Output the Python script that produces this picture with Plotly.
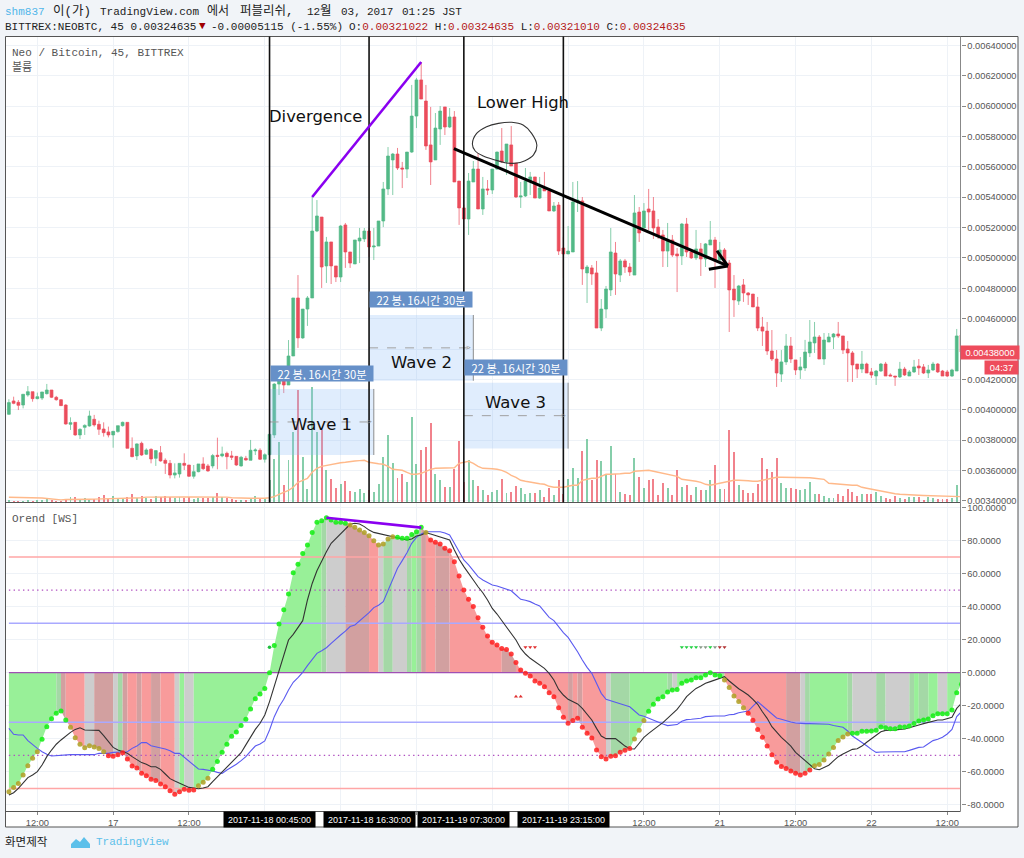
import pandas as pd
import plotly.graph_objects as go

WIDTH = 1024
HEIGHT = 858

# candles, in 1e-5 BTC, 45 minute bars
opens = [
    397.0,405.8,404.9,403.1,409.7,411.9,407.3,407.7,410.6,413.0,
    408.2,406.6,403.1,390.4,391.7,383.4,388.4,389.3,393.7,390.4,
    387.3,385.4,383.4,385.6,389.5,391.7,374.6,369.6,377.9,370.7,
    373.9,368.0,371.7,366.7,364.7,357.0,357.7,364.7,363.6,356.2,
    359.2,364.3,363.0,363.0,370.0,369.6,371.3,369.6,369.3,363.0,
    368.0,366.7,372.9,373.3,367.4,370.4,383.4,416.9,418.9,416.3,
    435.4,473.6,447.3,466.3,473.6,517.7,526.9,494.7,510.5,494.7,
    487.4,521.7,503.9,496.0,511.1,512.5,517.7,507.2,507.8,524.3,
    545.4,564.5,568.4,559.2,558.5,569.7,593.4,617.2,603.3,574.4,
    564.5,584.9,599.4,586.2,592.8,550.6,532.9,525.6,550.0,558.5,
    532.2,545.4,544.7,558.5,570.4,563.2,574.4,562.5,540.1,540.8,
    550.6,553.3,539.4,546.0,544.1,530.9,534.8,506.5,502.6,503.9,
    536.8,537.5,490.1,493.4,490.1,453.8,466.3,478.9,503.2,488.7,
    498.0,494.0,488.7,530.2,519.7,532.2,530.9,520.3,515.1,504.5,
    511.8,502.6,501.3,522.3,503.9,500.0,505.9,499.3,508.5,511.8,
    498.6,505.2,496.6,479.5,471.6,482.2,476.9,476.2,467.7,454.5,
    451.8,438.7,433.4,423.5,431.5,442.0,432.8,426.2,427.5,437.4,
    444.0,447.9,433.4,444.6,447.9,449.9,448.6,440.0,437.4,430.1,
    426.8,430.1,424.9,422.2,425.5,430.1,422.9,422.2,421.6,426.8,
    422.2,424.9,428.8,428.2,424.2,426.2,430.1,425.5,424.9,422.2,
    425.5,449.2,
]
closes = [
    404.7,404.2,402.9,410.2,411.9,407.3,408.6,411.7,413.0,408.2,
    406.6,402.7,390.6,391.5,383.4,387.1,389.7,395.9,390.0,387.1,
    384.9,383.4,385.8,389.5,391.7,374.6,369.1,377.5,370.2,373.5,
    367.6,373.1,366.3,364.7,357.0,358.4,364.7,363.4,356.2,359.2,
    364.3,361.2,359.7,369.8,369.3,370.9,369.1,368.7,363.6,368.7,
    366.9,373.3,373.5,367.4,370.4,383.8,416.9,422.2,416.3,435.4,
    473.6,447.3,466.3,473.6,517.7,527.6,494.0,510.5,494.7,487.4,
    521.0,503.9,496.6,511.8,513.1,517.7,507.2,507.8,524.3,545.4,
    567.1,568.4,559.2,558.5,569.7,593.4,617.2,604.6,573.7,563.2,
    585.5,596.7,586.2,592.8,550.0,532.9,525.6,550.6,558.5,532.2,
    545.4,544.7,558.5,569.7,563.2,575.0,560.5,540.1,540.8,550.6,
    553.3,539.4,546.0,544.1,530.9,534.2,504.5,502.6,504.5,536.8,
    538.1,492.7,494.0,489.4,453.8,466.3,479.5,503.9,489.4,498.0,
    494.0,490.7,529.6,516.4,530.9,530.2,519.7,515.1,504.5,511.8,
    501.9,501.3,522.3,503.9,500.0,505.9,499.3,509.2,511.8,498.0,
    505.2,496.0,478.9,472.3,481.5,476.9,475.6,467.7,453.8,451.8,
    438.7,433.4,424.2,431.5,442.0,433.4,426.2,428.2,438.0,444.6,
    447.9,433.4,445.9,447.9,449.9,448.6,439.3,437.4,429.5,426.8,
    430.1,424.2,422.9,425.5,430.1,422.2,422.2,421.6,426.8,422.9,
    424.9,428.2,427.5,424.2,426.2,430.1,424.9,422.2,422.2,426.2,
    448.6,438.0,
]
highs = [
    406.9,408.6,406.4,410.2,415.6,411.9,411.3,411.7,417.0,413.0,
    409.1,406.9,403.6,395.0,391.7,387.8,390.4,399.4,396.6,392.8,
    391.7,388.9,385.8,389.5,392.2,391.7,381.8,377.9,379.0,374.6,
    374.6,373.1,376.1,368.0,366.9,364.7,364.7,371.3,363.6,363.6,
    364.3,368.7,364.3,370.9,381.6,375.7,372.4,372.9,369.3,369.6,
    369.6,380.1,374.6,374.6,371.3,383.8,417.5,422.2,421.0,445.9,
    473.6,488.7,466.3,474.9,540.1,538.1,526.9,513.8,510.5,494.7,
    521.7,523.0,503.9,511.8,519.7,519.7,519.7,519.7,524.3,550.0,
    573.0,569.1,572.4,563.2,569.7,613.9,618.5,629.0,613.9,599.4,
    595.4,600.0,599.4,598.7,596.7,550.6,535.0,555.9,563.8,569.1,
    553.3,551.3,558.5,570.0,585.5,575.0,586.8,562.5,550.0,559.2,
    556.6,553.3,553.3,556.6,544.1,536.8,536.8,513.8,521.0,550.0,
    550.6,540.1,495.3,495.3,498.0,472.9,481.5,519.7,510.5,499.3,
    499.3,496.6,541.4,533.5,536.1,545.4,540.1,525.6,518.4,523.0,
    515.1,506.5,523.0,526.3,503.9,518.4,509.8,509.8,524.3,513.8,
    510.5,506.5,498.6,488.7,482.2,486.1,477.5,476.2,474.3,461.1,
    457.8,452.5,439.3,439.3,449.9,447.9,432.8,434.7,446.0,459.1,
    457.8,449.2,450.5,450.5,450.5,457.8,448.6,445.3,438.7,430.1,
    438.7,431.0,427.5,426.2,430.8,431.5,424.0,422.2,431.5,428.2,
    426.2,432.8,433.4,430.1,429.5,431.5,430.8,426.2,426.2,427.0,
    453.2,449.2,
]
lows = [
    396.6,403.6,399.8,400.9,408.6,405.3,406.9,406.4,410.0,407.7,
    406.0,402.5,390.2,386.7,382.9,380.7,383.4,388.9,388.9,383.4,
    382.3,381.8,375.0,384.9,388.9,374.6,368.7,366.9,369.6,370.2,
    364.7,363.0,365.8,357.7,354.8,354.8,355.3,360.3,355.7,354.6,
    358.8,360.3,359.2,361.4,360.8,368.7,360.8,366.9,363.0,362.5,
    366.5,366.7,370.2,366.9,365.2,370.4,381.4,409.7,411.0,416.3,
    435.4,440.7,446.7,455.2,473.6,517.0,480.2,483.5,482.8,484.1,
    484.1,493.4,493.4,496.0,496.6,510.5,500.6,498.6,507.8,520.3,
    541.4,541.4,557.9,546.0,552.6,569.1,585.5,604.6,571.1,548.0,
    564.5,574.4,580.9,585.5,550.0,521.7,525.6,515.1,550.0,532.2,
    528.3,541.4,542.1,557.9,562.5,554.6,560.5,539.5,532.9,540.1,
    541.4,539.4,538.8,544.1,530.9,530.2,501.9,486.8,502.6,503.9,
    530.2,482.2,470.3,482.2,453.8,451.8,460.4,474.9,475.6,484.1,
    490.1,488.1,488.7,510.5,519.7,518.4,512.5,512.5,494.0,494.0,
    500.6,477.5,495.3,500.6,499.3,498.6,488.1,494.0,508.5,480.2,
    498.0,493.4,451.2,461.1,469.0,471.0,469.0,467.7,451.8,442.0,
    436.1,432.1,415.0,418.3,429.5,430.8,422.9,420.3,425.5,434.7,
    437.4,433.4,429.5,444.6,440.0,447.3,436.7,418.3,418.3,420.9,
    424.2,424.2,420.9,416.3,424.9,422.2,422.2,415.7,420.9,422.2,
    422.2,424.2,422.9,423.5,420.9,425.5,424.2,422.2,421.6,421.6,
    425.5,437.4,
]

# volume, arbitrary units
volumes = [
    2.5,1.5,1.5,1.5,2,1.5,2.5,2.5,3.3,2.5,
    1,1.5,3.6,5,5,3.3,4.3,3,3.3,5,
    7.6,3.3,6,4.3,4.3,5,8.3,4.3,6,4,
    3.3,6.6,5,6,5.6,4,5,4.3,5,3.3,
    4.3,4.3,4.3,5,9.3,5,4.3,3,2.7,2.3,
    2.7,3.7,6,4.3,3.7,22,43.7,60,17.7,42.7,
    70,112,45,13,115,70,72,32,23,14,
    18,21,11,10,13,9,12,10,18,45,
    67,39,24,28,20,85,38,52,55,79,
    28,22,15,15,33,61,20,42,22,16,
    12,7,10,12,23,9,10,16,14,8,
    9,9,12,5,14,7,22,8,23,34,
    24,51,63,22,42,41,28,56,28,10,
    8,7,44,25,14,22,23,7,19,14,
    7,32,15,17,7,15,12,12,22,37,
    13,13,72,50,17,12,9,9,18,44,
    33,30,44,19,14,14,13,12,13,20,
    8,8,6,4,4,8,6,13,10,6,
    8,8,8,10,6,4,3,6,4,3,
    5,5,5,2,5,4,3,3,3,4,
    17,5,
]
volume_ma = [
    5,5,5,5,5,4.8,4.5,4.3,3.8,3.4,
    2.8,2.4,2.8,3,3,3,3,3.1,3.2,3.3,
    3.4,3.6,3.9,4,4,4.1,4.2,4.3,4.6,5.2,
    5.3,5.3,5.4,5.3,5.3,5.3,5.4,5.3,5.3,5.3,
    5.4,5.3,5.3,5.3,5.3,5.3,5.2,4.6,4.3,4.2,
    4.2,4.1,4.1,4,4,4.6,5.7,8,10,12,
    15,20,22,24,30,34,36,37,38,39,
    39.5,40,41,41.3,41.7,42,40,39,38.5,38,
    36,33,32.5,32,30,28,28,29,31,33,
    34,34,34,34,34.5,39,40,41,39,36,
    34,34,33.5,33,32,30,27,25,22,21,
    20,19.5,18.5,18,16,15,15,15,16,17,
    17,22,23,24,24,26,28,28,28,28.5,
    29,29,31,31.5,32,32,31,30,29,28,
    27,26,23,22.5,22,21,20,18,17,18,
    19,20,21,22,22,22,21.5,21,21,22,
    23,24,25,25,25,25,25,25,25,24.5,
    24,23.5,23,19,18.5,18,17.5,17.5,17,17,
    15,14,13,12,11,10,9.5,8.5,8,7.6,
    7.4,7.2,7,6.8,6.6,6.5,6.3,6.2,6,5.9,
    5.8,5.7,
]

# oscillator pane
dot_values = [
    -72,-69.4,-67,-61.9,-56.3,-51.8,-47.8,-40.3,-32.7,-27.8,
    -24.6,-23.2,-28.6,-33,-39.3,-43.3,-45.4,-44.2,-45,-45.8,
    -47.8,-50.2,-50.6,-49.6,-48.4,-52.2,-56.5,-57.7,-60.9,-62.3,
    -64.5,-65.3,-67.3,-69,-71.4,-73.6,-72,-70.6,-71.2,-71,
    -68.4,-66.3,-63.9,-58.5,-53.8,-48.2,-43.3,-38.5,-35.9,-31.9,
    -28.2,-22,-15.7,-12.9,-9.5,0,16.4,29.5,38.1,47.6,
    60.5,65.6,72.2,77.3,84.9,91,92,93.8,92.4,91,
    91,90.4,89.4,88,86.3,84.9,82.9,79.9,77.3,77.9,
    80.9,82.3,81.9,81.3,81.3,83.7,85.3,88,84.9,80.3,
    78.9,77.9,75.3,73.8,67.2,58.5,50,44.4,40,33.3,
    27.5,22.2,18.4,16.8,14.7,14.1,11.3,6.1,1.6,-0.4,
    -2,-5,-6.4,-8.5,-12.1,-14.5,-21.2,-27,-30.6,-29,
    -27.6,-33,-36.7,-39.5,-46.8,-50.8,-52.2,-50.6,-50.2,-48.2,
    -47,-45.8,-40.1,-34.9,-29,-23.4,-19.1,-15.9,-14.5,-11.7,
    -10.5,-10.1,-6.4,-5,-4.4,-3,-3,-1.4,0,-1.4,
    -1.8,-4.4,-9,-14.1,-17.5,-21.2,-24.6,-28.8,-34.3,-39.1,
    -44.4,-49.6,-54.2,-56.7,-57.9,-59.5,-60.9,-61.9,-60.9,-58.9,
    -56.3,-55.6,-52.8,-49.2,-45.2,-41.1,-38.9,-37.1,-36.7,-36.7,
    -35.5,-35.5,-35.3,-34.9,-32.9,-33.3,-33.9,-33.9,-32.9,-32.9,
    -32.3,-30.8,-29.2,-28.6,-28,-26,-24.8,-24.8,-24.8,-22.6,
    -12.1,-7,
]
black_line = [
    -74,-72.6,-70,-66.5,-63.5,-61.9,-59.9,-55.9,-50.8,-46.8,
    -43.3,-40.7,-38.3,-36.1,-34.3,-33.3,-34.7,-34.7,-34.7,-34.9,
    -38.1,-41.7,-45.2,-46.8,-47.8,-48.8,-50.8,-52.8,-54.4,-55.4,
    -56.9,-56.9,-58.5,-61.3,-64.1,-65.5,-66.9,-68,-69.4,-69.8,
    -70.2,-69.8,-69,-65.9,-62.9,-60.3,-56.9,-54.2,-51.4,-48.4,
    -43.7,-39.1,-34.3,-30.6,-25.6,-17.5,-8.5,0.6,10.7,19.8,
    23.2,27.4,31.5,44,54,61.7,67.8,73.2,78.3,81.3,
    83.9,87.4,89.8,90.4,90,88.4,86.3,84.9,84.3,83.7,
    82.9,82.3,81.7,80.9,80.3,80.9,82.7,83.3,84.7,83.9,
    82.9,82.3,81.3,80.3,74.2,68.6,64.2,60.5,56.1,52,
    48.4,44,38.9,35.5,31.5,27.9,24.2,19.8,14.7,11.3,
    8.7,6.7,4.7,2.6,-0.4,-4.4,-10.1,-13.5,-16.1,-17.7,
    -18.9,-21.6,-25,-28.6,-33.7,-38.3,-39.9,-39.9,-39.9,-42.1,
    -44.4,-46,-46.2,-42.7,-39.1,-36.7,-34.3,-32.3,-30.2,-27.6,
    -25,-22.2,-18.5,-14.5,-11.9,-9.5,-8.1,-6.4,-5.4,-4.4,
    -3,-2.4,-5,-7.6,-9.7,-11.5,-13.5,-16.1,-19.1,-23.6,
    -27.6,-32.7,-36.1,-39.1,-41.7,-44.4,-48.2,-50.8,-53.4,-55.9,
    -58.1,-58.7,-57.5,-56,-53.4,-50.8,-49.2,-47.8,-46.4,-46,
    -44.4,-42.1,-40.1,-37.7,-35.7,-34.9,-34.9,-34.7,-34.3,-34.1,
    -33.3,-32.3,-31.6,-30.8,-30,-29,-28.6,-28.6,-27.8,-27,
    -21.6,-18.5,
]
blue_line = [
    -33.7,-37.3,-37.7,-37.7,-41.1,-43.7,-45.8,-47.8,-49.4,-50.4,
    -50.2,-49.6,-49.6,-49.6,-49.6,-49.6,-49.6,-49.6,-49.6,-48.8,
    -48.8,-48.8,-48.2,-48.2,-48.2,-47.8,-45.8,-44.4,-42.3,-42.3,
    -44.2,-44.8,-45.8,-46.2,-47.2,-48.8,-48.8,-51.2,-53.8,-56.3,
    -58.3,-58.5,-58.9,-59.5,-60.3,-60.9,-58.9,-57.3,-55.4,-53.2,
    -50.8,-47.4,-44.4,-43.1,-41.3,-34.7,-26.6,-20.6,-16.1,-10.5,
    -5.8,-3,0.2,4.3,8.1,11.7,13.3,15.1,17.8,20.6,
    22.8,25.2,27.9,28.9,31.5,33.5,36.3,39.4,40.8,43,
    50,57.1,63.2,67.8,72.6,78.3,81.9,83.9,85.3,85.3,
    85.3,85.3,84.5,83.3,78.3,73.2,68.2,65.2,61.5,58.1,
    56.1,54.5,53.1,52.5,51.5,50.6,49.6,47,44.4,43.8,
    43,41.6,40.4,37,33.5,31.5,27.9,24.2,21.4,17.4,
    12.7,7.7,3.2,-0.4,-7,-12.5,-16.1,-17.1,-17.9,-18.9,
    -19.7,-20.6,-23.4,-25.6,-26.4,-27.6,-29,-30,-31,-32,
    -31.6,-31.4,-29.4,-28.4,-28.2,-27.8,-27.6,-26.6,-26.2,-26.2,
    -26.2,-26.2,-25.4,-25.2,-24.2,-23.6,-23.2,-20.2,-17.5,-20,
    -22.6,-25.4,-27.4,-28.2,-29.2,-29.8,-30.4,-30.8,-30.8,-30.8,
    -30.8,-30.8,-30.8,-31.2,-32,-32.3,-33,-35.3,-38.3,-40.3,
    -42.1,-44.2,-46.4,-48.2,-48,-47.8,-47.8,-47.8,-47.8,-47.8,
    -47,-46,-45.2,-45,-43.3,-41.1,-40.3,-39.1,-37.1,-34.3,
    -26.6,-23.6,
]

# (colour state, number of bars)
dot_runs = [("o",7),("g",6),("o",8),("r",19),("o",3),("g",29),("o",10),("g",6),("o",1),
            ("r",43),("o",3),("g",16),("o",5),("r",14),("o",8),("g",24)]
band_runs = [("g",10),("D",1),("R",1),("r",4),("n",2),("R",4),("n",1),("D",1),("R",1),("r",2),
             ("R",1),("r",2),("R",2),("r",3),("n",1),("g",1),("n",2),("g",27),("D",1),("n",4),
             ("R",5),("r",2),("n",1),("D",2),("n",3),("D",1),("g",1),("D",1),("R",1),("r",2),
             ("R",3),("r",11),("R",3),("r",11),("R",1),("r",1),("R",1),("r",5),("n",1),("D",4),
             ("g",8),("D",1),("n",1),("g",10),("r",13),("R",3),("n",1),("D",1),("g",8),("D",1),
             ("n",5),("D",2),("n",5),("D",1),("g",1),("D",2),("g",2),("n",2),("g",3)]
osc_levels = [70, 30, -30, -70]
osc_dotted_levels = [50, -50]

signal_value = 15.4
signal_red_bars = [109, 110, 111]
signal_green_bars = [142, 143, 144, 145, 148]
signal_grey_bars = [146, 147, 149]
signal_dark_bars = [150, 151]
signal_start_bars = [55]
low_signal_value = -14.5
low_signal_bars = [107, 108]

price_ticks = [0.0034 + 0.0002 * k for k in range(16)]
hidden_price_tick = 0.0044
osc_ticks = [-80, -60, -40, -20, 0, 20, 40, 60, 80, 100]
time_tick_bars = [6, 22, 38, 54, 70, 86, 102, 118, 134, 150, 166, 182, 198]
# the ones under the black time labels are not readable in the picture
time_tick_text = ["12:00", "17", "12:00", "", "", "", "", "", "12:00", "21", "12:00", "22", "12:00"]

marked_bars = [55, 76, 96, 117]
marked_text = ["2017-11-18 00:45:00", "2017-11-18 16:30:00", "2017-11-19 07:30:00", "2017-11-19 23:15:00"]

wave_bars = [(55, 77), (76, 98), (96, 118)]
wave_prices = [(413.7, 370.2), (462.4, 419.1), (417.8, 374.4)]
wave_names = ["Wave 1", "Wave 2", "Wave 3"]
wave_name_prices = [390.0, 431.0, 405.0]

circle_bars = [97.8, 98.7, 100.8, 103.3, 106.1, 108.5, 110.3, 111.4, 110.7, 108.9, 106.8, 104.7, 102.6, 100.1, 98.4, 97.8]
circle_prices = [575.0, 582.0, 586.4, 588.6, 589.3, 587.5, 582.0, 574.3, 567.8, 564.0, 562.3, 562.7, 564.5, 567.1, 570.4, 575.0]

GREEN = "#53b987"
RED = "#eb4d5c"
GREEN_WICK = "rgba(83,185,135,0.7)"
RED_WICK = "rgba(235,77,92,0.7)"
DOT_COLORS = {"g": "rgba(20,238,20,0.88)", "o": "rgba(176,160,40,0.88)", "r": "rgba(255,30,30,0.85)"}
BAND_COLORS = {"g": "#98f098", "D": "#a4d8a6", "r": "#f89b9b", "R": "#d2a0a0", "n": "#cdcdcd"}
MONO = "Liberation Mono, Noto Sans CJK KR, monospace"
SANS = "Liberation Sans, Arial, sans-serif"
DRAW = "DejaVu Sans, sans-serif"
CJK = "Noto Sans CJK KR, sans-serif"
GRID = "#eef2f7"
BG = "#f1f4f8"

assert all(len(a) == 202 for a in [opens, closes, highs, lows, volumes, volume_ma, dot_values, black_line, blue_line])

START = pd.Timestamp("2017-11-16 07:30:00")
BAR = pd.Timedelta(minutes=45)


def t(i):
    return str(START + BAR * i)


def px(x):
    return x / WIDTH


def py(y):
    return 1 - y / HEIGHT


def cents(values):
    return [v / 1e5 for v in values]


dates = [t(i) for i in range(len(opens))]
dot_colors = [DOT_COLORS[s] for s, n in dot_runs for _ in range(n)]
bar_colors = [GREEN if c >= o else RED for o, c in zip(opens, closes)]

fig = go.Figure()

# volume pane goes under the price axis
fig.add_trace(go.Bar(x=dates, y=volumes, width=BAR.total_seconds() * 1000 * 0.2,
                     marker=dict(color=bar_colors, line_width=0), opacity=0.7,
                     xaxis="x", yaxis="y", hoverinfo="skip"))
fig.add_trace(go.Scatter(x=dates, y=volume_ma, mode="lines", line=dict(color="#ffb98a", width=1.4),
                         xaxis="x", yaxis="y", hoverinfo="skip"))
fig.add_trace(go.Candlestick(x=dates, open=cents(opens), high=cents(highs), low=cents(lows), close=cents(closes),
                             increasing=dict(line=dict(color=GREEN_WICK, width=1), fillcolor=GREEN),
                             decreasing=dict(line=dict(color=RED_WICK, width=1), fillcolor=RED),
                             whiskerwidth=0, xaxis="x", yaxis="y3", hoverinfo="skip"))
fig.add_trace(go.Scatter(x=[t(i) for i in circle_bars], y=cents(circle_prices), mode="lines",
                         line=dict(color="#333333", width=1.1, shape="spline"),
                         xaxis="x", yaxis="y3", hoverinfo="skip"))

# oscillator bands
start = 0
for state, n in band_runs:
    fig.add_trace(go.Scatter(x=dates[start:start + n + 1], y=dot_values[start:start + n + 1], mode="none",
                             fill="tozeroy", fillcolor=BAND_COLORS[state],
                             xaxis="x2", yaxis="y2", hoverinfo="skip"))
    start += n

for level in osc_levels:
    color = "#ffa6a6" if abs(level) == 70 else "#a9a9ff"
    fig.add_trace(go.Scatter(x=[dates[0], dates[-1]], y=[level, level], mode="lines",
                             line=dict(color=color, width=1.5), xaxis="x2", yaxis="y2", hoverinfo="skip"))
for level in osc_dotted_levels:
    fig.add_trace(go.Scatter(x=[dates[0], dates[-1]], y=[level, level], mode="lines",
                             line=dict(color="#b050c0", width=1.3, dash="1.4px,3.3px"), xaxis="x2", yaxis="y2", hoverinfo="skip"))
fig.add_trace(go.Scatter(x=[dates[0], dates[-1]], y=[0, 0], mode="lines",
                         line=dict(color="#a050b4", width=1.3), xaxis="x2", yaxis="y2", hoverinfo="skip"))

fig.add_trace(go.Scatter(x=dates, y=blue_line, mode="lines", line=dict(color="#5a5af0", width=1.1),
                         xaxis="x2", yaxis="y2", hoverinfo="skip"))
fig.add_trace(go.Scatter(x=dates, y=black_line, mode="lines", line=dict(color="#333333", width=1.1),
                         xaxis="x2", yaxis="y2", hoverinfo="skip"))
fig.add_trace(go.Scatter(x=dates, y=dot_values, mode="markers",
                         marker=dict(color=dot_colors, size=5, line_width=0),
                         xaxis="x2", yaxis="y2", hoverinfo="skip"))

# small signal triangles
for bars, value, symbol, color in [
    (signal_red_bars, signal_value, "triangle-down", "#e03030"),
    (signal_green_bars, signal_value, "triangle-down", "#20d040"),
    (signal_grey_bars, signal_value, "triangle-down", "#889a88"),
    (signal_dark_bars, signal_value, "triangle-down", "#b03030"),
    (signal_start_bars, signal_value, "circle", "#20c040"),
    (low_signal_bars, low_signal_value, "triangle-up", "#e03030"),
]:
    fig.add_trace(go.Scatter(x=[dates[i] for i in bars], y=[value] * len(bars), mode="markers",
                             marker=dict(color=color, size=3.6, symbol=symbol, line_width=0),
                             xaxis="x2", yaxis="y2", hoverinfo="skip"))

annotations = []
shapes = []


def text(x, y, s, size=11, color="#222222", family=MONO, anchor="left"):
    # annotations carry 2px of padding
    annotations.append(dict(x=px(x - 2), y=py(y), xref="paper", yref="paper", text=s, showarrow=False,
                            xanchor=anchor, yanchor="middle", font=dict(size=size, color=color, family=family)))


def line(x0, y0, x1, y1, color, width, dash="solid"):
    shapes.append(dict(type="line", x0=t(x0), x1=t(x1), y0=y0 / 1e5, y1=y1 / 1e5, xref="x", yref="y3",
                       line=dict(color=color, width=width, dash=dash), layer="above"))


# frame and pane separators
shapes.append(dict(type="rect", x0=px(5.5), x1=px(1018), y0=py(827), y1=py(36.5), xref="paper", yref="paper",
                   fillcolor="white", line=dict(color="#555555", width=1), layer="below"))
for y in [502.5, 811.5]:
    shapes.append(dict(type="line", x0=px(5.5), x1=px(960.5), y0=py(y), y1=py(y), xref="paper", yref="paper",
                       line=dict(color="#555555", width=1), layer="above"))
shapes.append(dict(type="line", x0=px(960.5), x1=px(960.5), y0=py(811.5), y1=py(36.5), xref="paper", yref="paper",
                   line=dict(color="#888888", width=1), layer="above"))

# wave boxes
for (a, b), (top, bottom) in zip(wave_bars, wave_prices):
    shapes.append(dict(type="rect", x0=t(a), x1=t(b), y0=bottom / 1e5, y1=top / 1e5, xref="x", yref="y3",
                       fillcolor="rgba(144,191,249,0.28)", line_width=0, layer="above"))
    line(b, top, b, bottom, "#8c8c8c", 1)
    line(a, (top + bottom) / 2, b, (top + bottom) / 2, "#a0a0a0", 1, "dash")
    annotations.append(dict(x=t(b), y=(top + bottom) / 2e5, xref="x", yref="y3", text=">", showarrow=False,
                            xanchor="right", yanchor="middle", font=dict(size=8, color="#909090", family=SANS)))

# wave range labels
for (a, b), top in zip(wave_bars, wave_prices):
    annotations.append(dict(x=t((a + b) / 2), y=top[0] / 1e5, xref="x", yref="y3", yanchor="bottom", xanchor="center", yshift=7,
                            text="22 봉, 16시간 30분", showarrow=False, bgcolor="#6690c8", width=100, height=13,
                            font=dict(size=11.2, color="white", family=CJK)))
for name, (a, b), price in zip(wave_names, wave_bars, wave_name_prices):
    annotations.append(dict(x=t((a + b) / 2), y=price / 1e5, xref="x", yref="y3", text=name, showarrow=False,
                            xanchor="center", yanchor="middle", font=dict(size=16.5, color="#111111", family=DRAW)))

# vertical markers
for b in marked_bars:
    shapes.append(dict(type="line", x0=t(b), x1=t(b), y0=py(502.5), y1=py(36.5), xref="x", yref="paper",
                       line=dict(color="#111111", width=1.6), layer="above"))

# trend lines
line(64, 540.1, 87, 629.0, "#8a00f0", 2.6)
line(93.9, 571.9, 151.7, 494.7, "#000000", 3)
line(149.4, 504.7, 151.7, 494.7, "#000000", 3)
line(147.7, 492.5, 151.7, 494.7, "#000000", 3)
shapes.append(dict(type="line", x0=t(67), x1=t(87), y0=93.8, y1=87.8, xref="x2", yref="y2",
                   line=dict(color="#8a00f0", width=2.6), layer="above"))

annotations.append(dict(x=t(54.5), y=py(117), xref="x", yref="paper", text="Divergence", showarrow=False,
                        xanchor="left", yanchor="middle", font=dict(size=16.4, color="#111111", family=DRAW)))
annotations.append(dict(x=t(98.4), y=py(103), xref="x", yref="paper", text="Lower High", showarrow=False,
                        xanchor="left", yanchor="middle", font=dict(size=16.4, color="#111111", family=DRAW)))

# black time labels on the axis
for b, s in zip(marked_bars, marked_text):
    annotations.append(dict(x=t(b), y=py(819.5), xref="x", yref="paper", text=s, showarrow=False, bgcolor="#000000",
                            xanchor="center", yanchor="middle", width=89, height=13,
                            font=dict(size=9, color="white", family=SANS)))

# last price tags
annotations.append(dict(x=px(989.5), y=closes[-1] / 1e5, xref="paper", yref="y3", text="0.00438000", showarrow=False,
                        xanchor="center", yanchor="middle", bgcolor="#ee4c5c", width=56, height=11,
                        font=dict(size=9.3, color="white", family=SANS)))
annotations.append(dict(x=px(1001.5), y=py(367), xref="paper", yref="paper", text="04:37", showarrow=False,
                        xanchor="center", yanchor="middle", bgcolor="#ee4c5c", width=31, height=11,
                        font=dict(size=9.3, color="white", family=SANS)))

# header text
text(5, 12, "shm837", color="#4fb6ea")
text(52.5, 12, "이(가)", size=12.5)
text(100, 12, "TradingView.com")
text(206.5, 12, "에서", size=12)
text(240, 12, "퍼블리쉬,", size=12.5)
text(307, 12, "12")
text(320, 12, "월", size=12.5)
text(341, 12, "03,")
text(367, 12, "2017")
text(402, 12, "01:25")
text(442, 12, "JST")
text(5, 27, "BITTREX:NEOBTC, 45 0.00324635")
text(199, 26.5, "▼", color="#a00000", size=11)
text(211, 27, "-0.00005115 (-1.55%)")
text(349, 27, 'O:<span style="color:#b51a1a">0.00321022</span> H:<span style="color:#b51a1a">0.00324635</span> '
              'L:<span style="color:#b51a1a">0.00321010</span> C:<span style="color:#b51a1a">0.00324635</span>')
text(12, 53, "Neo / Bitcoin, 45, BITTREX", color="#555555")
text(12, 66, "볼륨", color="#555555", family=CJK, size=11)
text(12, 519, "Orend [WS]", color="#555555")

# footer
text(5, 841, "화면제작", color="#222222", family=CJK, size=11.5)
text(96, 842, "TradingView", color="#5cc0ea")
shapes.append(dict(type="path", xref="paper", yref="paper", fillcolor="#5cc0ea", line_width=0,
                   path=f"M {px(71)} {py(848)} L {px(71)} {py(844)} L {px(76)} {py(839)} L {px(80)} {py(842)} "
                        f"L {px(84)} {py(837)} L {px(90)} {py(844)} L {px(90)} {py(848)} Z"))

x_range = [t(-0.61), t(200.8)]
tick_dates = [t(i) for i in time_tick_bars]
price_lo = 0.0064 - (502.3 - 45.3) / 30.37 * 0.0002
price_hi = 0.0064 + (45.3 - 37) / 30.37 * 0.0002
price_text = ["" if abs(v - hidden_price_tick) < 1e-9 else f"{v:.8f}" for v in price_ticks]

fig.update_layout(
    width=WIDTH, height=HEIGHT, autosize=False,
    margin=dict(l=0, r=0, t=0, b=0, pad=0, autoexpand=False),
    paper_bgcolor=BG, plot_bgcolor="rgba(0,0,0,0)",
    showlegend=False, bargap=0, boxgap=0.15, barmode="overlay",
    shapes=shapes, annotations=annotations,
    font=dict(family=SANS, size=9.3, color="#555555"),
    xaxis=dict(domain=[px(6), px(960.5)], range=x_range, anchor="y", type="date", rangeslider=dict(visible=False),
               tickvals=tick_dates, ticktext=[""] * len(tick_dates), ticks="", showgrid=True, gridcolor=GRID, gridwidth=1,
               zeroline=False, showline=False),
    yaxis=dict(domain=[py(502.3), py(37)], range=[0, 465.3], anchor="x", visible=False, showgrid=False, zeroline=False),
    yaxis3=dict(domain=[py(502.3), py(37)], range=[price_lo, price_hi], overlaying="y", anchor="x", side="right",
                tickvals=price_ticks, ticktext=price_text, ticks="outside", ticklen=4,
                tickcolor="#888888", showgrid=True, gridcolor=GRID, gridwidth=1, zeroline=False, showline=False,
                tickfont=dict(size=9.3, color="#555555", family=SANS)),
    xaxis2=dict(domain=[px(6), px(960.5)], range=x_range, anchor="y2", type="date", matches="x",
                tickvals=tick_dates, ticktext=time_tick_text, ticks="outside", ticklen=3, tickcolor="#888888",
                showgrid=True, gridcolor=GRID, gridwidth=1, zeroline=False, showline=False,
                tickfont=dict(size=9.3, color="#555555", family=SANS)),
    yaxis2=dict(domain=[py(811.3), py(503)], range=[(672.7 - 811.3) / 1.6525, (672.7 - 503) / 1.6525], anchor="x2", side="right",
                tickvals=osc_ticks, ticktext=[f"{v:.4f}" for v in osc_ticks], ticks="outside", ticklen=4,
                tickcolor="#888888", showgrid=True, gridcolor=GRID, gridwidth=1, zeroline=False, showline=False,
                tickfont=dict(size=9.3, color="#555555", family=SANS)),
)

# fit the page to the figure, no scrollbars or toolbar
page_css = ("document.body.style.margin='0';document.body.style.height='858px';"
            "document.body.style.overflow='hidden';document.documentElement.style.overflow='hidden';")
fig.write_html("out.html", config={"displayModeBar": False}, post_script=page_css)
